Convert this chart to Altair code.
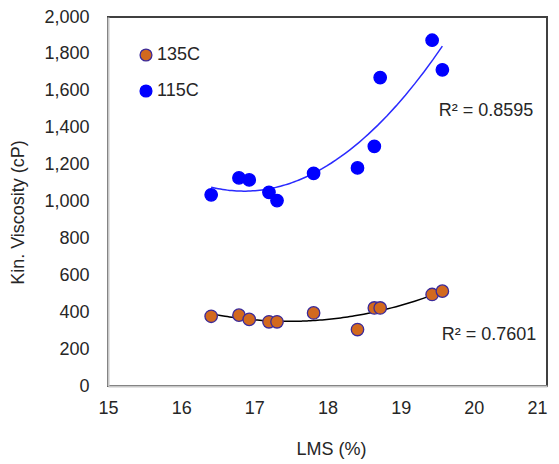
import altair as alt
import pandas as pd

lms = [16.41, 16.79, 16.93, 17.20, 17.31, 17.81, 18.41, 18.64, 18.72, 19.43, 19.57]
visc_135 = [378, 384, 361, 348, 348, 396, 306, 423, 423, 496, 514]
visc_115 = [1036, 1128, 1117, 1050, 1005, 1153, 1182, 1299, 1672, 1874, 1714]
series_names = ["135C", "115C"]
r2_labels = ["R\u00b2 = 0.8595", "R\u00b2 = 0.7601"]
r2_x = [19.52, 19.56]
r2_y = [1488, 276]
x_ticks = [15, 16, 17, 18, 19, 20, 21]
y_ticks = [0, 200, 400, 600, 800, 1000, 1200, 1400, 1600, 1800, 2000]

rows = []
for x, a, b in zip(lms, visc_135, visc_115):
    rows.append({"LMS": x, "V": a, "Series": series_names[0]})
    rows.append({"LMS": x, "V": b, "Series": series_names[1]})
df = pd.DataFrame(rows)
lab = pd.DataFrame({"t": r2_labels, "x": r2_x, "y": r2_y})

FONT = "Liberation Sans"
xs = alt.Scale(domain=[15, 21], nice=False)
ys = alt.Scale(domain=[0, 2000], nice=False)

x_axis = alt.Axis(
    title="LMS (%)", values=x_ticks, format="d", ticks=False,
    grid=False, domainColor="#c8c8c8", domainWidth=2, labelPadding=13,
    labelOverlap=False, labelFlush=False,
    labelAlign={"condition": {"test": "datum.value == 21", "value": "right"}, "value": "center"},
    labelFontSize=18, labelColor="#262626", labelFont=FONT,
    titleFont=FONT, titleFontSize=18, titleFontWeight="normal", titleColor="#262626",
    titleX=223, titleY=63, titleBaseline="middle", titleAlign="center")
y_axis = alt.Axis(
    title="Kin. Viscosity (cP)", values=y_ticks, format=",.0f",
    ticks=False, grid=False, domainColor="#c8c8c8", domainWidth=2, labelPadding=19,
    labelOverlap=False, labelFlush=False,
    labelFontSize=18, labelColor="#262626", labelFont=FONT,
    titleFont=FONT, titleFontSize=18, titleFontWeight="normal", titleColor="#262626",
    titleX=-90, titleY=195, titleBaseline="middle", titleAlign="center", titleAngle=270)

base = alt.Chart(df)

line135 = base.transform_filter(alt.datum.Series == "135C").transform_regression(
    "LMS", "V", method="poly", order=2).mark_line(color="#000000", strokeWidth=1.5).encode(
    x=alt.X("LMS:Q", scale=xs, axis=x_axis), y=alt.Y("V:Q", scale=ys, axis=y_axis))
line115 = base.transform_filter(alt.datum.Series == "115C").transform_regression(
    "LMS", "V", method="poly", order=2).mark_line(color="#2a2aff", strokeWidth=1.5).encode(
    x=alt.X("LMS:Q", scale=xs, axis=x_axis), y=alt.Y("V:Q", scale=ys, axis=y_axis))

pts = base.mark_point(filled=True, size=155, opacity=1, strokeWidth=1.3).encode(
    x=alt.X("LMS:Q", scale=xs, axis=x_axis),
    y=alt.Y("V:Q", scale=ys, axis=y_axis),
    fill=alt.Color("Series:N", scale=alt.Scale(domain=series_names, range=["#d2691e", "#0000ff"]),
                   legend=alt.Legend(title=None, orient="none", legendX=29, legendY=29,
                                     labelFont=FONT, labelFontSize=18, labelColor="#262626",
                                     symbolSize=140, symbolStrokeWidth=1.3, labelOffset=2,
                                     rowPadding=18, padding=0)),
    stroke=alt.Stroke("Series:N", scale=alt.Scale(domain=series_names, range=["#3b2a9a", "#0000ff"]),
                      legend=None),
    shape=alt.value("circle"),
)

txt = alt.Chart(lab).mark_text(align="left", baseline="middle", font=FONT, fontSize=18,
                               color="#262626").encode(
    x=alt.X("x:Q", scale=xs, axis=x_axis), y=alt.Y("y:Q", scale=ys, axis=y_axis), text="t:N")

chart = alt.layer(line135, line115, pts, txt).properties(
    width=439, height=369, autosize="none",
    padding={"left": 100, "top": 9, "right": 4, "bottom": 76},
).configure_view(stroke="#404040", strokeWidth=2).configure_axis(labelOverlap=False)

chart.save("out.html", embed_options={"renderer": "svg", "actions": False})
